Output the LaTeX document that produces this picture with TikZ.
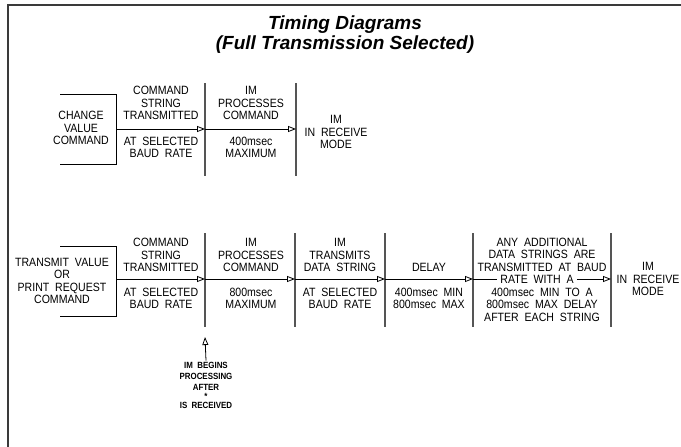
\documentclass[tikz,border=0pt]{standalone}
\usepackage{fontspec}
\setmainfont{Liberation Sans}
\newfontfamily\cadfont[FakeStretch=0.88, WordSpace=2]{Liberation Sans}
\usepackage{tikz}
\usetikzlibrary{arrows.meta}
\definecolor{framegray}{HTML}{3A3A3A}
\definecolor{tickgray}{HTML}{555555}
\tikzstyle{sig} = [-{Triangle[open,length=8pt,width=6pt]}, line width=0.8pt]
\tikzstyle{bracket} = [line width=0.8pt]
\tikzstyle{tick} = [draw=tickgray, line width=1.3pt]
\tikzstyle{lbl} = [align=center, inner sep=1pt, font=\cadfont\fontsize{12}{12.5}\selectfont]
\tikzstyle{notetxt} = [align=center, inner sep=1pt, font=\cadfont\fontsize{9}{11}\selectfont\bfseries]

\begin{document}
\begin{tikzpicture}[x=1pt,y=-1pt]
\useasboundingbox (0,0) rectangle (681,447);
\draw[framegray, line width=1.8pt] (8,447) -- (8,5) -- (681,5);
\node[font=\fontsize{19}{20}\selectfont\bfseries\itshape, align=center] (title) at (345,35) {Timing Diagrams\\(Full Transmission Selected)};

% change value command
\draw[bracket] (60,94) -- (116,94) -- (116,164) -- (60,164);
\coordinate (cv) at (116,129);
\node[lbl] (cvtxt) at (81,128) {CHANGE\\VALUE\\COMMAND};
\foreach \x/\n in {205/a1,296/a2}{
  \draw[tick] (\x,83) -- (\x,176);
  \coordinate (\n) at (\x,129);
}
\draw[sig] (cv) -- (a1);
\draw[sig] (a1) -- (a2);
\foreach \x/\txtA/\txtB in {161/{COMMAND\\STRING\\TRANSMITTED}/{AT SELECTED\\BAUD RATE},251/{IM\\PROCESSES\\COMMAND}/{400msec\\MAXIMUM}}{
  \node[lbl] (au\x) at (\x,103) {\txtA};
  \node[lbl] (al\x) at (\x,147.5) {\txtB};
}
\node[lbl] (arecv) at (336,132) {IM\\IN RECEIVE\\MODE};

% transmit value / print request command
\draw[bracket] (60,246) -- (116,246) -- (116,316) -- (60,316);
\coordinate (tv) at (116,279);
\node[lbl] (tvtxt) at (62,281) {TRANSMIT VALUE\\OR\\PRINT REQUEST\\COMMAND};
\foreach \x/\n in {205/b1,295/b2,385/b3,473/b4,611/b5}{
  \draw[tick] (\x,233) -- (\x,327);
  \coordinate (\n) at (\x,279);
}
\draw[sig] (tv) -- (b1);
\draw[sig] (b1) -- (b2);
\draw[sig] (b2) -- (b3);
\draw[sig] (b3) -- (b4);
\node[lbl, inner sep=3pt] (rate) at (537,279) {RATE WITH A};
\draw[line width=0.8pt] (b4) -- (rate.west);
\draw[sig] (rate.east) -- (b5);
\foreach \x/\txtA/\txtB in {161/{COMMAND\\STRING\\TRANSMITTED}/{AT SELECTED\\BAUD RATE},251/{IM\\PROCESSES\\COMMAND}/{800msec\\MAXIMUM},340/{IM\\TRANSMITS\\DATA STRING}/{AT SELECTED\\BAUD RATE}}{
  \node[lbl] (bu\x) at (\x,255) {\txtA};
  \node[lbl] (bl\x) at (\x,298.5) {\txtB};
}
\node[lbl] (delay) at (429,267) {DELAY};
\node[lbl] (delaylim) at (429,298.5) {400msec MIN\\800msec MAX};
\node[lbl] (moreup) at (542,254.5) {ANY ADDITIONAL\\DATA STRINGS ARE\\TRANSMITTED AT BAUD};
\node[lbl] (morelo) at (542,304.5) {400msec MIN TO A\\800msec MAX DELAY\\AFTER EACH STRING};
\node[lbl] (brecv) at (648,279) {IM\\IN RECEIVE\\MODE};

\coordinate (proc) at (205,337);
\node[notetxt] (note) at (206,385) {IM BEGINS\\PROCESSING\\AFTER\\[-2pt]*\\[-2pt]IS RECEIVED};
\draw[-{Triangle[open,length=8pt,width=6pt]}, line width=0.8pt] (note.north) -- (proc);
\end{tikzpicture}
\end{document}
